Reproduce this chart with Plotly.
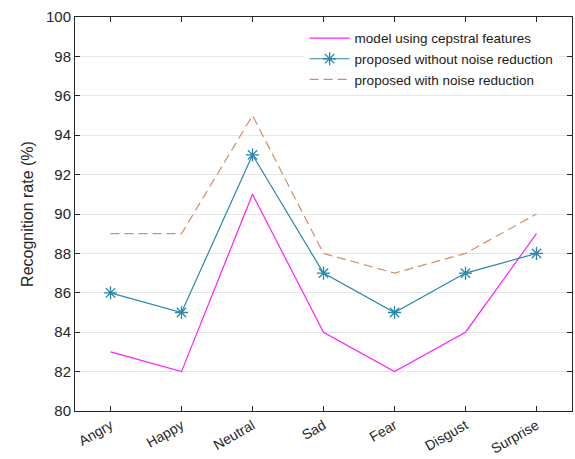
import plotly.graph_objects as go

emotions = ["Angry", "Happy", "Neutral", "Sad", "Fear", "Disgust", "Surprise"]
cepstral = [83, 82, 91, 84, 82, 84, 89]
without_nr = [86, 85, 93, 87, 85, 87, 88]
with_nr = [89, 89, 95, 88, 87, 88, 90]
y_ticks = [80, 82, 84, 86, 88, 90, 92, 94, 96, 98, 100]

xpos = list(range(1, len(emotions) + 1))
font_family = "Liberation Sans, Arial, sans-serif"

fig = go.Figure()
fig.add_trace(go.Scatter(
    x=xpos, y=cepstral, mode="lines", name="model using cepstral features",
    line=dict(color="#FF1FFF", width=1.2),
))
fig.add_trace(go.Scatter(
    x=xpos, y=without_nr, mode="lines+markers", name="proposed without noise reduction",
    line=dict(color="#2A88AA", width=1.2),
    marker=dict(symbol="asterisk-open", size=11, color="#2A88AA",
                line=dict(color="#2A88AA", width=1.3)),
))
fig.add_trace(go.Scatter(
    x=xpos, y=with_nr, mode="lines", name="proposed with noise reduction",
    line=dict(color="#D98A68", width=1.2, dash="9px,5px"),
))

fig.update_layout(
    width=575, height=459,
    margin=dict(l=75, r=3, t=17, b=48),
    paper_bgcolor="white", plot_bgcolor="white",
    font=dict(family=font_family, size=14, color="#262626"),
    showlegend=True,
    legend=dict(
        x=0.462, y=0.985, xanchor="left", yanchor="top",
        bgcolor="rgba(255,255,255,1)", borderwidth=0,
        font=dict(size=13.5, color="#1a1a1a"),
        tracegroupgap=0, itemwidth=40,
    ),
)
fig.update_xaxes(
    range=[0.5, 7.5], tickmode="array", tickvals=xpos, ticktext=emotions,
    tickangle=-30, ticks="inside", ticklen=5, tickcolor="#262626",
    showline=True, linecolor="#262626", linewidth=1, mirror="ticks",
    showgrid=False, zeroline=False,
    tickfont=dict(size=14, color="#262626"),
)
fig.update_yaxes(
    range=[80, 100], tickmode="array", tickvals=y_ticks,
    ticks="inside", ticklen=5, tickcolor="#262626",
    showline=True, linecolor="#262626", linewidth=1, mirror="ticks",
    showgrid=True, gridcolor="#E6E6E6", gridwidth=1, zeroline=False,
    tickfont=dict(size=15, color="#262626"),
    title=dict(text="Recognition rate (%)", font=dict(size=16, color="#262626"), standoff=8),
)

fig.write_html("out.html")
